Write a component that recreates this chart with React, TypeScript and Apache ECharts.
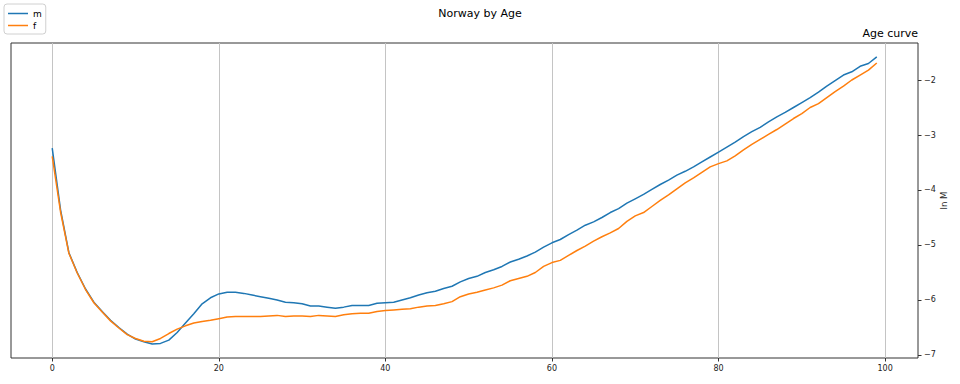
import React, { useEffect, useRef } from "react";
import * as echarts from "echarts";

const ages: number[] = Array.from({ length: 100 }, (_, i) => i);

const maleLnM: number[] = [
  -3.24, -4.36, -5.14, -5.5, -5.8, -6.04, -6.21, -6.37, -6.5, -6.62,
  -6.71, -6.76, -6.8, -6.79, -6.73, -6.59, -6.42, -6.25, -6.07, -5.96,
  -5.89, -5.86, -5.86, -5.88, -5.91, -5.94, -5.97, -6.0, -6.04, -6.05,
  -6.07, -6.11, -6.11, -6.13, -6.15, -6.13, -6.1, -6.1, -6.1, -6.06,
  -6.05, -6.04, -6.0, -5.96, -5.91, -5.87, -5.84, -5.79, -5.75, -5.67,
  -5.61, -5.57, -5.5, -5.45, -5.39, -5.31, -5.26, -5.2, -5.13, -5.04,
  -4.96, -4.9, -4.81, -4.73, -4.64, -4.58, -4.5, -4.41, -4.34, -4.24,
  -4.16, -4.08, -3.99, -3.9, -3.82, -3.73, -3.66, -3.58, -3.49, -3.4,
  -3.31, -3.22, -3.13, -3.03, -2.94, -2.86, -2.76, -2.67, -2.59, -2.5,
  -2.41, -2.32, -2.22, -2.11, -2.01, -1.91, -1.85, -1.75, -1.7, -1.58,
];

const femaleLnM: number[] = [
  -3.39, -4.4, -5.15, -5.51, -5.81, -6.05, -6.22, -6.38, -6.51, -6.63,
  -6.7, -6.75, -6.76, -6.7, -6.61, -6.53, -6.47, -6.42, -6.39, -6.37,
  -6.34, -6.31, -6.3, -6.3, -6.3, -6.3, -6.29, -6.28, -6.3, -6.29,
  -6.29, -6.3, -6.28, -6.29, -6.3, -6.27, -6.25, -6.24, -6.24, -6.21,
  -6.19, -6.18, -6.17, -6.16, -6.13, -6.11, -6.1, -6.07, -6.03, -5.94,
  -5.89, -5.86, -5.82, -5.78, -5.73, -5.65, -5.61, -5.57, -5.5, -5.39,
  -5.32, -5.28, -5.19, -5.1, -5.02, -4.93, -4.85, -4.78, -4.7, -4.57,
  -4.47, -4.41, -4.3, -4.19, -4.09, -3.98, -3.87, -3.78, -3.68, -3.58,
  -3.52, -3.47, -3.38, -3.27, -3.17, -3.08, -2.99, -2.9, -2.8, -2.7,
  -2.61, -2.5, -2.43, -2.32, -2.21, -2.11, -2.0, -1.91, -1.82, -1.69,
];

const xTicks: number[] = [0, 20, 40, 60, 80, 100];
const yTicks: number[] = [-7, -6, -5, -4, -3, -2];

const FONT = "DejaVu Sans";

export default function App() {
  const ref = useRef<HTMLDivElement>(null);
  useEffect(() => {
    if (!ref.current) return;
    const chart = echarts.init(ref.current, undefined, { renderer: "svg" });
    const fmt = (v: number) => (v < 0 ? "\u2212" + Math.abs(v) : String(v));
    chart.setOption({
      animation: false,
      backgroundColor: "#fff",
      textStyle: { fontFamily: FONT },
      title: [
        {
          text: "Norway by Age",
          left: "center",
          top: 3,
          textStyle: { fontFamily: FONT, fontSize: 11, fontWeight: "normal", color: "#000" },
        },
        {
          text: "Age curve",
          right: 42,
          top: 28,
          padding: 0,
          textStyle: { fontFamily: FONT, fontSize: 11, fontWeight: "normal", color: "#000" },
        },
      ],
      legend: {
        left: 4,
        top: 4,
        orient: "vertical",
        icon: "rect",
        itemWidth: 20,
        itemHeight: 1.5,
        itemGap: 3,
        padding: [5, 4, 4, 4],
        borderColor: "#d0d0d0",
        borderWidth: 1,
        borderRadius: 3,
        backgroundColor: "#fff",
        textStyle: { fontFamily: FONT, fontSize: 9, color: "#000" },
        data: ["m", "f"],
      },
      grid: {
        left: 11,
        right: 42,
        top: 43,
        bottom: 26,
        show: true,
        borderColor: "#333",
        borderWidth: 1,
        backgroundColor: "transparent",
        outerBoundsMode: "none",
        containLabel: false,
      },
      xAxis: {
        type: "value",
        min: -4.95,
        max: 103.95,
        axisLine: { show: false, onZero: false },
        axisTick: { show: true, inside: false, length: 3.5, customValues: xTicks, lineStyle: { color: "#333" } },
        axisLabel: {
          customValues: xTicks,
          formatter: fmt,
          fontFamily: FONT,
          fontSize: 8,
          color: "#222",
          margin: 6,
        },
        splitLine: { show: true, lineStyle: { color: "#c4c4c4", width: 1 } },
      },
      yAxis: {
        type: "value",
        position: "right",
        min: -7.055,
        max: -1.327,
        name: "ln M",
        nameLocation: "middle",
        nameRotate: 90,
        nameGap: 21,
        nameMoveOverlap: false,
        nameTextStyle: { fontFamily: FONT, fontSize: 8.5, color: "#222" },
        axisLine: { show: false, onZero: false },
        axisTick: { show: true, inside: false, length: 3.5, customValues: yTicks, lineStyle: { color: "#333" } },
        axisLabel: {
          customValues: yTicks,
          formatter: fmt,
          fontFamily: FONT,
          fontSize: 8,
          color: "#222",
          margin: 6,
        },
        splitLine: { show: false },
      },
      series: [
        {
          name: "m",
          type: "line",
          data: ages.map((a, i) => [a, maleLnM[i]]),
          showSymbol: false,
          symbol: "none",
          lineStyle: { color: "#1f77b4", width: 1.5 },
          itemStyle: { color: "#1f77b4" },
        },
        {
          name: "f",
          type: "line",
          data: ages.map((a, i) => [a, femaleLnM[i]]),
          showSymbol: false,
          symbol: "none",
          lineStyle: { color: "#ff7f0e", width: 1.5 },
          itemStyle: { color: "#ff7f0e" },
        },
      ],
    });
    return () => chart.dispose();
  }, []);
  return <div ref={ref} style={{ width: 960, height: 384, position: "absolute", left: 0, top: 0 }} />;
}
